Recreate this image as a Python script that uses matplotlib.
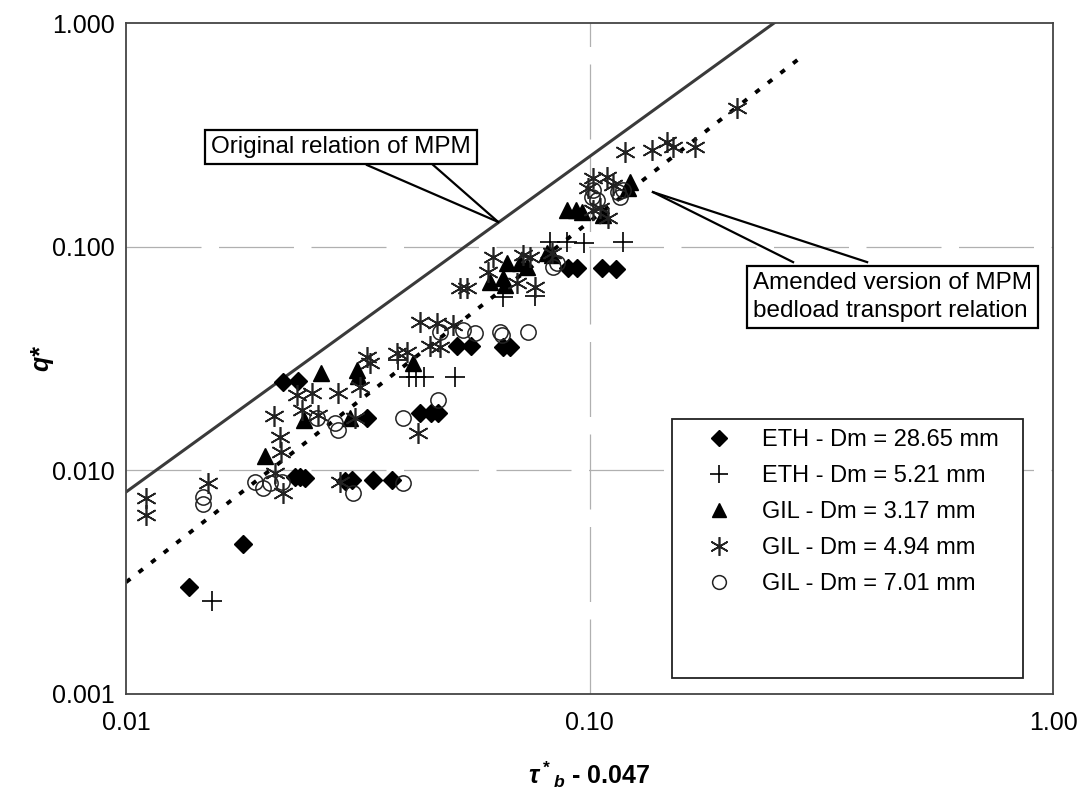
import numpy as np
import matplotlib
matplotlib.use('Agg')
import matplotlib.pyplot as plt
from matplotlib.lines import Line2D
from matplotlib.ticker import FixedLocator, FixedFormatter, NullLocator

plt.rcParams['font.family'] = ['Liberation Sans', 'DejaVu Sans']
plt.rcParams['mathtext.fontset'] = 'custom'
plt.rcParams['mathtext.it'] = 'Liberation Sans:italic:bold'
plt.rcParams['mathtext.rm'] = 'Liberation Sans:bold'
plt.rcParams['mathtext.bf'] = 'Liberation Sans:bold'

# --- data (tau*_b - 0.047, q*) ---
eth_28_x = [0.01368, 0.01788, 0.02181, 0.02350, 0.02315, 0.02374, 0.02433, 0.02969,
            0.03073, 0.03411, 0.03749, 0.03311, 0.04308, 0.04550, 0.04711, 0.05177,
            0.05551, 0.06508, 0.06738, 0.08987, 0.09397, 0.1064, 0.1141]
eth_28_y = [0.00301, 0.00468, 0.02481, 0.02507, 0.00933, 0.00933, 0.00924, 0.00896,
            0.00905, 0.00905, 0.00905, 0.01713, 0.01804, 0.01804, 0.01804, 0.03594,
            0.03594, 0.03557, 0.03557, 0.0802, 0.0802, 0.0802, 0.0794]

eth_5_x = [0.01533, 0.03862, 0.04079, 0.04224, 0.04396, 0.05126, 0.06508, 0.07627,
           0.08219, 0.08942, 0.09730, 0.1181]
eth_5_y = [0.00260, 0.03112, 0.02613, 0.02613, 0.02613, 0.02613, 0.05952, 0.06014,
           0.1048, 0.1048, 0.1038, 0.1048]

gil_3_x = [0.01995, 0.02421, 0.02635, 0.03150, 0.03166, 0.03043, 0.04160, 0.06101,
           0.06508, 0.06573, 0.06637, 0.07080, 0.07331, 0.08097, 0.08301, 0.08942,
           0.09352, 0.09634, 0.1069, 0.1223, 0.1211]
gil_3_y = [0.01158, 0.01679, 0.02722, 0.02808, 0.02640, 0.01713, 0.03017, 0.06947,
           0.07237, 0.06735, 0.08448, 0.08448, 0.08105, 0.09363, 0.09173, 0.1457,
           0.1457, 0.1428, 0.1385, 0.1945, 0.1828]

gil_4_x = [0.01104, 0.01104, 0.01503, 0.02086, 0.02149, 0.02160, 0.02096, 0.02181,
           0.02338, 0.02519, 0.02867, 0.02398, 0.02596, 0.03119, 0.03198, 0.03311,
           0.03361, 0.02896, 0.03843, 0.04039, 0.04266, 0.04308, 0.04688, 0.05076,
           0.04529, 0.04758, 0.05255, 0.05442, 0.06039, 0.06191, 0.06976, 0.07627,
           0.07186, 0.07436, 0.08301, 0.1018, 0.1091, 0.1124, 0.09926, 0.1054,
           0.1018, 0.1096, 0.1193, 0.1364, 0.1470, 0.1514, 0.1689, 0.2081]
gil_4_y = [0.00752, 0.00631, 0.00877, 0.01749, 0.01409, 0.01207, 0.00973, 0.00791,
           0.02171, 0.02216, 0.02216, 0.01860, 0.01767, 0.01713, 0.02357, 0.03209,
           0.03017, 0.00886, 0.03345, 0.03380, 0.01468, 0.04603, 0.04556, 0.04463,
           0.03594, 0.03557, 0.06531, 0.06531, 0.07700, 0.08985, 0.06876, 0.06598,
           0.09173, 0.08985, 0.09363, 0.2026, 0.2047, 0.1886, 0.1828, 0.1488,
           0.1457, 0.1342, 0.2648, 0.2703, 0.2935, 0.2788, 0.2788, 0.4165]

gil_7_x = [0.01466, 0.01466, 0.01898, 0.01975, 0.02045, 0.02170, 0.02583, 0.02824,
           0.02867, 0.03088, 0.03959, 0.03959, 0.04711, 0.04758, 0.05334, 0.05662,
           0.06411, 0.06475, 0.07368, 0.08342, 0.08509, 0.1018, 0.1013, 0.1038,
           0.1152, 0.1181, 0.1164]
gil_7_y = [0.00760, 0.00707, 0.00886, 0.00834, 0.00877, 0.00886, 0.01713, 0.01627,
           0.01514, 0.00791, 0.00877, 0.01713, 0.02062, 0.04152, 0.04239, 0.04110,
           0.04152, 0.04026, 0.04152, 0.08105, 0.08448, 0.1791, 0.1666, 0.1616,
           0.1754, 0.1791, 0.1666]

# relation lines (end points on log-log axes)
mpm_x = [0.01, 0.25]
mpm_y = [0.008, 1.0]
amended_x = [0.01, 0.29]
amended_y = [0.00316, 0.72]

x_ticks = [0.01, 0.1, 1.0]
x_labels = ['0.01', '0.10', '1.00']
y_ticks = [0.001, 0.01, 0.1, 1.0]
y_labels = ['0.001', '0.010', '0.100', '1.000']

fig = plt.figure(figsize=(10.81, 7.94), dpi=100)
ax = fig.add_axes([0.1166, 0.126, 0.8576, 0.845])
ax.set_xscale('log')
ax.set_yscale('log')
ax.set_xlim(0.01, 1.0)
ax.set_ylim(0.001, 1.0)

# grid: dashed horizontals, one vertical at 0.1
for yv in [0.01, 0.1]:
    ax.axhline(yv, color='#b0b0b0', lw=0.9, dashes=(60, 14), zorder=0)
ax.axvline(0.1, color='#b0b0b0', lw=0.9, dashes=(60, 14), zorder=0)

ax.plot(mpm_x, mpm_y, color='#3a3a3a', lw=2.2, zorder=2)
ax.plot(amended_x, amended_y, color='black', lw=2.8, ls=(0, (1.4, 2.7)), zorder=2)

ax.plot(eth_28_x, eth_28_y, ls='none', marker='D', ms=9, color='black', zorder=4,
        label='ETH - Dm = 28.65 mm')
ax.plot(eth_5_x, eth_5_y, ls='none', marker='+', ms=15, mew=1.2, color='black', zorder=4,
        label='ETH - Dm = 5.21 mm')
ax.plot(gil_3_x, gil_3_y, ls='none', marker='^', ms=11, color='black', zorder=4,
        label='GIL - Dm = 3.17 mm')
ax.plot(gil_4_x, gil_4_y, ls='none', marker=(6, 2, 0), ms=15, mew=1.2, color='#222',
        zorder=4, label='GIL - Dm = 4.94 mm')
ax.plot(gil_7_x, gil_7_y, ls='none', marker='o', ms=11, mfc='none', mec='#222',
        mew=1.1, zorder=4, label='GIL - Dm = 7.01 mm')

# callouts
box = dict(boxstyle='square,pad=0.25', fc='white', ec='black', lw=1.6)
ax.text(0.01526, 0.279, 'Original relation of MPM', fontsize=17.5, ha='left', va='center',
        bbox=box, zorder=6)
for xs in [0.0331, 0.0460]:
    ax.plot([xs, 0.0635], [0.2317, 0.129], color='black', lw=1.6, zorder=5)

ax.text(0.2253, 0.0595, 'Amended version of MPM\nbedload transport relation', fontsize=17.5,
        ha='left', va='center', linespacing=1.35, bbox=box, zorder=6)
for xs in [0.2748, 0.397]:
    ax.plot([xs, 0.137], [0.0853, 0.1754], color='black', lw=1.6, zorder=5)

# legend with two blank rows at the bottom
handles, labels = ax.get_legend_handles_labels()
blank = Line2D([], [], ls='none', marker='none')
handles += [blank, blank]
labels += [' ', ' ']
leg = ax.legend(handles, labels, loc='upper left', bbox_to_anchor=(0.589, 0.0, 0.379, 0.41),
                mode='expand', borderaxespad=0, fontsize=17, frameon=True, fancybox=False,
                framealpha=1, edgecolor='#222', borderpad=0.42, handlelength=3.1,
                handletextpad=0.3, labelspacing=0.6, markerscale=0.9)
leg.get_frame().set_linewidth(1.3)
leg.set_zorder(7)

ax.xaxis.set_major_locator(FixedLocator(x_ticks))
ax.xaxis.set_major_formatter(FixedFormatter(x_labels))
ax.yaxis.set_major_locator(FixedLocator(y_ticks))
ax.yaxis.set_major_formatter(FixedFormatter(y_labels))
ax.xaxis.set_minor_locator(NullLocator())
ax.yaxis.set_minor_locator(NullLocator())
ax.tick_params(length=0, labelsize=18, colors='black')
ax.tick_params(axis='x', pad=12)
ax.tick_params(axis='y', pad=8)
for s in ax.spines.values():
    s.set_color('#444')
    s.set_linewidth(1.3)

ax.set_xlabel(r'$\tau^*{}_b$ - 0.047', fontsize=18, fontweight='bold')
ax.set_ylabel('q*', fontsize=18, fontweight='bold', style='italic')
ax.xaxis.set_label_coords(0.5, -0.098)
ax.yaxis.set_label_coords(-0.078, 0.5)

fig.savefig('out.png', dpi=100)
